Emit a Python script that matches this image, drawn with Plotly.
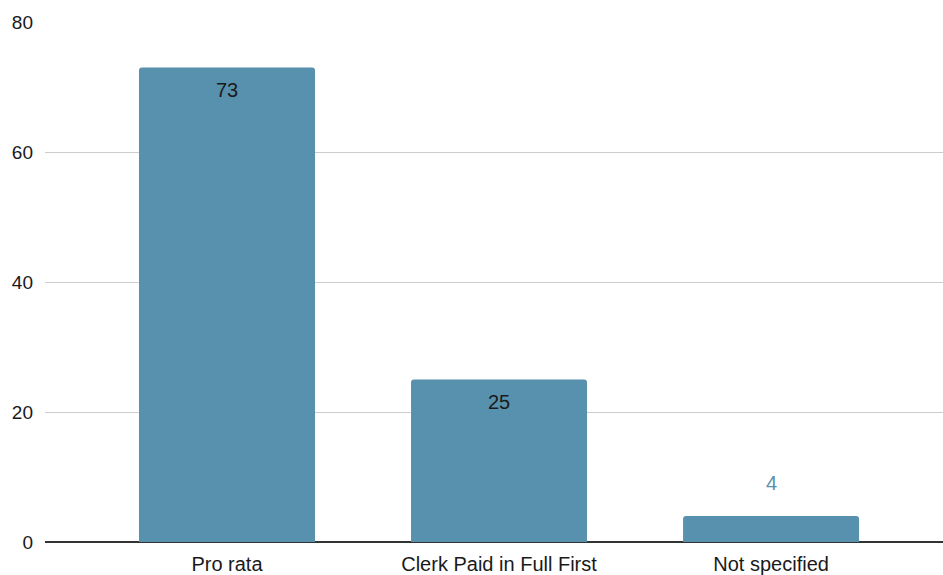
import plotly.graph_objects as go

categories = ["Pro rata", "Clerk Paid in Full First", "Not specified"]
counts = [73, 25, 4]
y_ticks = [0, 20, 40, 60, 80]

bar_color = "#5891ad"
font_family = "Liberation Sans, Arial, sans-serif"

fig = go.Figure()
fig.add_trace(go.Bar(
    x=categories,
    y=counts,
    marker=dict(color=bar_color, line=dict(width=0), cornerradius=3),
    width=0.647,
    hoverinfo="skip",
))

# Value labels: inside near the top for tall bars, above the bar for short ones
for cat, val in zip(categories, counts):
    inside = val > 10
    fig.add_annotation(
        x=cat, y=val, text=str(val), showarrow=False,
        yanchor="middle", yshift=-22 if inside else 33,
        font=dict(family=font_family, size=20,
                  color="#1a1a1a" if inside else bar_color),
    )

fig.update_layout(
    width=943, height=575,
    margin=dict(l=45, r=0, t=22, b=33),
    paper_bgcolor="white", plot_bgcolor="white",
    showlegend=False,
    font=dict(family=font_family, size=19, color="#1a1a1a"),
    xaxis=dict(
        type="category", range=[-0.669, 2.632],
        showgrid=False, showline=False, ticks="",
        ticklabelstandoff=8,
        tickfont=dict(size=20), fixedrange=True,
    ),
    yaxis=dict(
        range=[0, 80], tickvals=y_ticks,
        showgrid=True, gridcolor="#cccccc", gridwidth=1,
        zeroline=True, zerolinecolor="#333333", zerolinewidth=1.5,
        showline=False, ticks="", ticklabelstandoff=11,
        tickfont=dict(size=19), fixedrange=True,
    ),
)

fig.write_html("out.html")
